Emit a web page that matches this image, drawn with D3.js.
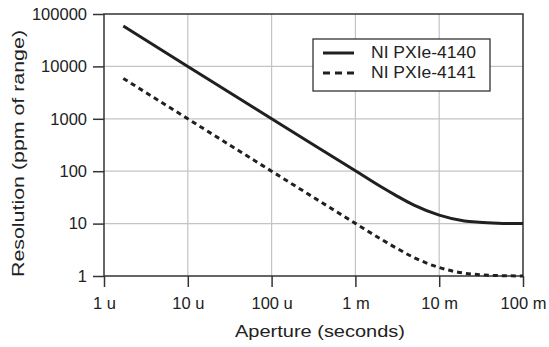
<!DOCTYPE html>
<html>
<head>
<meta charset="utf-8">
<script src="https://cdn.jsdelivr.net/npm/d3@7"></script>
<style>
  body { margin: 0; background: #fff; }
  text { font-family: "Liberation Sans", Arial, Helvetica, sans-serif; fill: #222; }
</style>
</head>
<body>
<div id="chart"></div>
<script>
// aperture (s) and resolution (ppm of range)
var aperture4140 = [1.7e-6, 1e-5, 1e-4, 1e-3, 2e-3, 3e-3, 5e-3, 1e-2, 2e-2, 3e-2, 5e-2, 1e-1];
var resolution4140 = [59000, 10000, 1000, 102, 51, 35, 22.5, 14.5, 11.2, 10.6, 10.2, 10];
var aperture4141 = [1.7e-6, 1e-5, 1e-4, 1e-3, 2e-3, 3e-3, 5e-3, 1e-2, 2e-2, 3e-2, 5e-2, 1e-1];
var resolution4141 = [5900, 1000, 100, 10.1, 5.1, 3.5, 2.25, 1.45, 1.13, 1.06, 1.02, 1.0];
var seriesNames = ["NI PXIe-4140", "NI PXIe-4141"];

var xTickValues = [1e-6, 1e-5, 1e-4, 1e-3, 1e-2, 1e-1];
var xTickLabels = ["1 u", "10 u", "100 u", "1 m", "10 m", "100 m"];
var yTickValues = [1, 10, 100, 1000, 10000, 100000];
var yTickLabels = ["1", "10", "100", "1000", "10000", "100000"];

var width = 549, height = 347;
var padding = { top: 14, right: 26, bottom: 71, left: 104 };
var ink = "#231f20";

var svg = d3.select("#chart").append("svg")
  .attr("width", width)
  .attr("height", height);

var xscale = d3.scaleLog()
  .domain([1e-6, 1e-1])
  .range([padding.left, width - padding.right]);
var yscale = d3.scaleLog()
  .domain([1, 1e5])
  .range([height - padding.bottom, padding.top]);

// gridlines
svg.append("g").selectAll("line")
  .data(xTickValues.slice(1, -1)).enter().append("line")
  .attr("x1", d => xscale(d)).attr("x2", d => xscale(d))
  .attr("y1", yscale(1)).attr("y2", yscale(1e5))
  .attr("stroke", "#c4c4c4").attr("stroke-width", 1.2);
svg.append("g").selectAll("line")
  .data(yTickValues.slice(1, -1)).enter().append("line")
  .attr("y1", d => yscale(d)).attr("y2", d => yscale(d))
  .attr("x1", xscale(1e-6)).attr("x2", xscale(1e-1))
  .attr("stroke", "#c4c4c4").attr("stroke-width", 1.2);

// frame
svg.append("rect")
  .attr("x", xscale(1e-6)).attr("y", yscale(1e5))
  .attr("width", xscale(1e-1) - xscale(1e-6))
  .attr("height", yscale(1) - yscale(1e5))
  .attr("fill", "none").attr("stroke", "#333").attr("stroke-width", 1.5);

// axes
var xAxis = d3.axisBottom(xscale)
  .tickValues(xTickValues)
  .tickSize(11).tickPadding(10)
  .tickFormat((d, i) => xTickLabels[i]);
var yAxis = d3.axisLeft(yscale)
  .tickValues(yTickValues)
  .tickSize(11).tickPadding(6)
  .tickFormat((d, i) => yTickLabels[i]);

var gx = svg.append("g")
  .attr("transform", "translate(0," + (height - padding.bottom) + ")")
  .call(xAxis);
var gy = svg.append("g")
  .attr("transform", "translate(" + padding.left + ",0)")
  .call(yAxis);
[gx, gy].forEach(function (g) {
  g.select(".domain").remove();
  g.selectAll(".tick line").attr("stroke", "#333").attr("stroke-width", 1.5);
  g.selectAll(".tick text").style("font-size", "16.5px").attr("fill", ink)
    .style("font-family", '"Liberation Sans", Arial, sans-serif');
});

// axis titles
svg.append("text")
  .attr("x", 320).attr("y", 337)
  .attr("text-anchor", "middle")
  .attr("textLength", 170).attr("lengthAdjust", "spacingAndGlyphs")
  .style("font-size", "17px")
  .text("Aperture (seconds)");
svg.append("text")
  .attr("transform", "translate(24,153.5) rotate(-90)")
  .attr("text-anchor", "middle")
  .attr("textLength", 247).attr("lengthAdjust", "spacingAndGlyphs")
  .style("font-size", "17px")
  .text("Resolution (ppm of range)");

// lines
var valueline = d3.line()
  .x(d => xscale(d[0]))
  .y(d => yscale(d[1]))
  .curve(d3.curveMonotoneX);

svg.append("path")
  .datum(d3.zip(aperture4140, resolution4140))
  .attr("d", valueline)
  .attr("fill", "none").attr("stroke", ink).attr("stroke-width", 3);
svg.append("path")
  .datum(d3.zip(aperture4141, resolution4141))
  .attr("d", valueline)
  .attr("fill", "none").attr("stroke", ink).attr("stroke-width", 3)
  .attr("stroke-dasharray", "5,4");

// legend
var legend = svg.append("g");
legend.append("rect")
  .attr("x", 313).attr("y", 39).attr("width", 177).attr("height", 52)
  .attr("fill", "#fff").attr("stroke", "#333").attr("stroke-width", 1.3);
var rows = legend.selectAll("g.row")
  .data(seriesNames).enter().append("g")
  .attr("class", "row")
  .attr("transform", (d, i) => "translate(0," + (53 + i * 20) + ")");
rows.append("line")
  .attr("x1", 323).attr("x2", 354)
  .attr("stroke", ink).attr("stroke-width", 3)
  .attr("stroke-dasharray", (d, i) => i === 0 ? null : "7,5");
rows.append("text")
  .attr("x", 371).attr("y", 5)
  .attr("textLength", 105).attr("lengthAdjust", "spacingAndGlyphs")
  .style("font-size", "16.5px")
  .text(d => d);
</script>
</body>
</html>
